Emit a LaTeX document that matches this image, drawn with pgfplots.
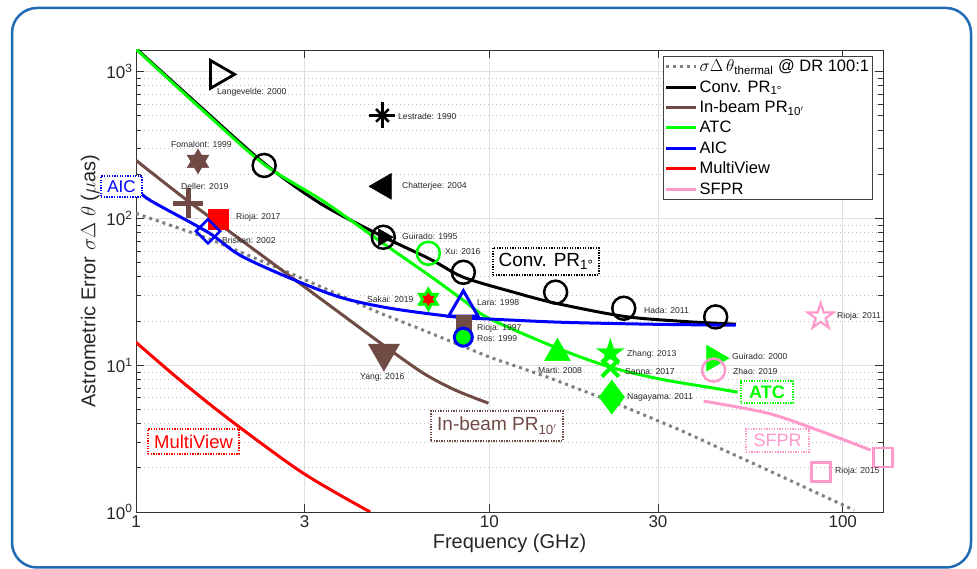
\documentclass[border=0pt]{standalone}
\usepackage{fontspec}
\setmainfont{Liberation Sans}
\usepackage{pgfplots}
\pgfplotsset{compat=1.18}
\definecolor{brownc}{rgb}{0.44,0.29,0.27}
\definecolor{pinkc}{rgb}{1,0.6,0.8}
\definecolor{framec}{RGB}{31,108,180}
\definecolor{gridc}{gray}{0.88}
\definecolor{txtc}{gray}{0.15}
\pgfdeclareplotmark{hexagram*}{%
  \pgfpathmoveto{\pgfpointpolar{90}{\pgfplotmarksize}}%
  \pgfpathlineto{\pgfpointpolar{120}{0.577\pgfplotmarksize}}%
  \pgfpathlineto{\pgfpointpolar{150}{\pgfplotmarksize}}%
  \pgfpathlineto{\pgfpointpolar{180}{0.577\pgfplotmarksize}}%
  \pgfpathlineto{\pgfpointpolar{210}{\pgfplotmarksize}}%
  \pgfpathlineto{\pgfpointpolar{240}{0.577\pgfplotmarksize}}%
  \pgfpathlineto{\pgfpointpolar{270}{\pgfplotmarksize}}%
  \pgfpathlineto{\pgfpointpolar{300}{0.577\pgfplotmarksize}}%
  \pgfpathlineto{\pgfpointpolar{330}{\pgfplotmarksize}}%
  \pgfpathlineto{\pgfpointpolar{0}{0.577\pgfplotmarksize}}%
  \pgfpathlineto{\pgfpointpolar{30}{\pgfplotmarksize}}%
  \pgfpathlineto{\pgfpointpolar{60}{0.577\pgfplotmarksize}}%
  \pgfpathclose\pgfusepathqfillstroke}
\newcommand\pentapath{%
  \pgfpathmoveto{\pgfpointpolar{90}{\pgfplotmarksize}}%
  \pgfpathlineto{\pgfpointpolar{126}{0.382\pgfplotmarksize}}%
  \pgfpathlineto{\pgfpointpolar{162}{\pgfplotmarksize}}%
  \pgfpathlineto{\pgfpointpolar{198}{0.382\pgfplotmarksize}}%
  \pgfpathlineto{\pgfpointpolar{234}{\pgfplotmarksize}}%
  \pgfpathlineto{\pgfpointpolar{270}{0.382\pgfplotmarksize}}%
  \pgfpathlineto{\pgfpointpolar{306}{\pgfplotmarksize}}%
  \pgfpathlineto{\pgfpointpolar{342}{0.382\pgfplotmarksize}}%
  \pgfpathlineto{\pgfpointpolar{18}{\pgfplotmarksize}}%
  \pgfpathlineto{\pgfpointpolar{54}{0.382\pgfplotmarksize}}%
  \pgfpathclose}
\pgfdeclareplotmark{pentagram*}{\pentapath\pgfusepathqfillstroke}
\pgfdeclareplotmark{pentagram}{\pentapath\pgfusepathqstroke}
\newcommand\lbl[3]{\node[anchor=west,inner sep=0pt,text=txtc,font=\fontsize{8.6}{9}\selectfont] at (#1,#2) {#3};}
\begin{document}
\begin{tikzpicture}[x=1pt,y=1pt]
\useasboundingbox (0,0) rectangle (977,569);
\draw[framec, line width=2.5pt, rounded corners=25pt] (12,1.5) rectangle (971,561);
\begin{axis}[
  at={(136pt,57pt)}, anchor=south west,
  scale only axis, width=747pt, height=462pt,
  xmode=log, ymode=log,
  xmin=1, xmax=130, ymin=1, ymax=1400,
  xtick={1,3,10,30,100}, xticklabels={1,3,10,30,100},
  minor xtick={},
  ytick={1,10,100,1000},
  yticklabels={10\textsuperscript{0},10\textsuperscript{1},10\textsuperscript{2},10\textsuperscript{3}},
  xmajorgrids, ymajorgrids, yminorgrids,
  major grid style={gridc, line width=0.8pt},
  minor grid style={gray!50, line width=0.6pt, dash pattern=on 1pt off 3pt},
  axis line style={black!80, line width=0.8pt},
  tick style={black!80, line width=0.7pt},
  major tick length=8pt, minor tick length=5pt,
  tick label style={font=\fontsize{17}{19}\selectfont, text=txtc},
  label style={font=\fontsize{20}{22}\selectfont, text=txtc},
  xlabel={Frequency (GHz)},
  ylabel={Astrometric Error $\sigma\Delta\;\theta$ ($\mu$as)},
  legend style={at={(0.9866,0.987)}, anchor=north east,
    font=\fontsize{16.5}{17}\selectfont, draw=black!75, line width=0.8pt,
    inner sep=1.5pt, row sep=3.2pt, cells={anchor=west}},
  legend image code/.code={\draw[#1] (0pt,0pt) -- (30pt,0pt);},
  legend cell align=left,
]
% thermal
\addplot[gray, line width=3pt, dash pattern=on 3pt off 4pt] coordinates {
 (1,108) (1.599,73.1) (2.73,42.3) (4.91,22.6) (6.50,17.3) (10.05,11.3)
 (14.6,8.29) (22.4,5.6) (34.7,3.61) (61.3,1.93) (107.6,1.03)};
\addlegendentry{$\sigma\Delta\,\theta$\textsubscript{thermal} @ DR 100:1}
% Conv PR
\addplot[black, line width=3pt, smooth] coordinates {
 (1,1435) (1.518,578) (2.305,237) (3.32,126.5) (4.91,76.6) (6.81,52.6)
 (8.44,39.7) (11.7,31.4) (15.4,26.4) (24.0,21.5) (34.8,19.9) (49.8,19.0)};
\addlegendentry{Conv. PR\textsubscript{1°}}
% In-beam
\addplot[brownc, line width=3pt, smooth] coordinates {
 (1,248) (1.395,132.6) (1.97,72) (2.73,40.3) (3.78,22.6) (5.01,13.7)
 (6.50,8.82) (8.01,6.76) (9.94,5.51)};
\addlegendentry{In-beam PR\textsubscript{10$'$}}
% ATC
\addplot[green, line width=3pt, smooth] coordinates {
 (1,1420) (1.518,565) (2.305,233) (3.386,131) (4.91,69.7) (6.81,40.3)
 (8.44,27.7) (9.94,20.9) (15.58,13.05) (22.0,9.69) (30.5,8.03) (43.1,6.98) (50.4,6.55)};
\addlegendentry{ATC}
% AIC
\addplot[blue, line width=3pt, smooth] coordinates {
 (1,160) (1.096,132.6) (1.599,80.3) (1.97,56.0) (2.73,39.1) (3.78,29.0)
 (5.24,24.4) (8.12,21.2) (10.05,20.6) (15.9,19.6) (28.6,19.0) (49.8,18.7)};
\addlegendentry{AIC}
% MultiView
\addplot[red, line width=3pt, smooth] coordinates {
 (1,14.3) (1.332,7.91) (1.846,4.23) (2.97,1.84) (4.60,1.0)};
\addlegendentry{MultiView}
% SFPR
\addplot[pinkc, line width=3pt, smooth] coordinates {
 (40.4,5.69) (61.3,4.71) (85,3.61) (120,2.64)};
\addlegendentry{SFPR}
% ---- markers ----
\addplot[forget plot, only marks, mark=triangle, mark size=16pt, line width=2.8pt, black, mark options={rotate=-90}] coordinates {(1.713,955)};
\addplot[forget plot, only marks, mark=+, mark size=13pt, line width=2.5pt, black] coordinates {(4.98,502)};
\addplot[forget plot, only marks, mark=x, mark size=9pt, line width=2.5pt, black] coordinates {(4.98,502)};
\addplot[forget plot, only marks, mark=triangle*, mark size=15pt, black, mark options={rotate=90}] coordinates {(5.03,165)};
\addplot[forget plot, only marks, mark=hexagram*, mark size=12.5pt, brownc, mark options={fill=brownc}] coordinates {(1.498,244)};
\addplot[forget plot, only marks, mark=+, mark size=15pt, line width=5pt, brownc] coordinates {(1.404,126.5)};
\addplot[forget plot, only marks, mark=square*, mark size=10pt, red, mark options={fill=red}] coordinates {(1.707,98.5)};
\addplot[forget plot, only marks, mark=square, mark size=8.5pt, line width=2.5pt, blue, mark options={rotate=45}] coordinates {(1.599,81.6)};
% conv PR circles
\addplot[forget plot, only marks, mark=o, mark size=11.5pt, line width=2.5pt, black] coordinates {
 (2.305,229) (5.01,74.3) (8.44,42.9) (15.4,31.4) (24.0,24.4) (43.7,21.3)};
\addplot[forget plot, only marks, mark=triangle*, mark size=10pt, black, mark options={rotate=-90}] coordinates {(5.01,74.3)};
\addplot[forget plot, only marks, mark=o, mark size=11.5pt, line width=2.5pt, green] coordinates {(6.72,57.8)};
\addplot[forget plot, only marks, mark=hexagram*, mark size=12.5pt, green, mark options={fill=green}] coordinates {(6.72,28.1)};
\addplot[forget plot, only marks, mark=hexagram*, mark size=6.5pt, red, mark options={fill=red}] coordinates {(6.72,28.1)};
\addplot[forget plot, only marks, mark=triangle, mark size=17pt, line width=3pt, blue] coordinates {(8.44,24.6)};
\addplot[forget plot, only marks, mark=square*, mark size=7.5pt, brownc, mark options={fill=brownc}] coordinates {(8.44,19.6)};
\addplot[forget plot, only marks, mark=*, mark size=9pt, line width=3pt, blue, mark options={fill=green}] coordinates {(8.44,15.5)};
\addplot[forget plot, only marks, mark=triangle*, mark size=18pt, brownc, mark options={rotate=180, fill=brownc}] coordinates {(5.03,12.07)};
\addplot[forget plot, only marks, mark=triangle*, mark size=15pt, green, mark options={fill=green}] coordinates {(15.58,12.07)};
\addplot[forget plot, only marks, mark=pentagram*, mark size=14.5pt, green, mark options={fill=green}] coordinates {(22.0,12.1)};
\addplot[forget plot, only marks, mark=x, mark size=12pt, line width=4pt, green] coordinates {(22.0,9.55)};
\addplot[forget plot, only marks, mark=diamond*, mark size=17pt, green, mark options={fill=green}] coordinates {(22.2,6.06)};
\addplot[forget plot, only marks, mark=triangle*, mark size=15pt, green, mark options={rotate=-90, fill=green}] coordinates {(43.25,11.16)};
\addplot[forget plot, only marks, mark=o, mark size=11.5pt, line width=2.5pt, pinkc] coordinates {(43.1,9.25)};
\addplot[forget plot, only marks, mark=pentagram, mark size=13.6pt, line width=2.2pt, pinkc] coordinates {(86.6,21.4)};
\addplot[forget plot, only marks, mark=square, mark size=9.5pt, line width=2.5pt, pinkc] coordinates {(86.9,1.87) (130,2.35)};
\end{axis}
% ---- annotation labels (pixel coordinates, y from bottom) ----
\lbl{217}{477}{Langevelde: 2000}
\lbl{398}{453}{Lestrade: 1990}
\lbl{171}{425}{Fomalont: 1999}
\lbl{402}{383}{Chatterjee: 2004}
\lbl{181}{383}{Deller: 2019}
\lbl{236}{352}{Rioja: 2017}
\lbl{222}{329}{Brisken: 2002}
\lbl{402}{333}{Guirado: 1995}
\lbl{445}{317}{Xu: 2016}
\lbl{367}{270}{Sakai: 2019}
\lbl{477}{266}{Lara: 1998}
\lbl{477}{241}{Rioja: 1997}
\lbl{477}{230}{Ros: 1999}
\lbl{360}{192}{Yang: 2016}
\lbl{538}{199}{Marti: 2008}
\lbl{627}{215}{Zhang: 2013}
\lbl{625}{197}{Sanna: 2017}
\lbl{627}{172}{Nagayama: 2011}
\lbl{644}{259}{Hada: 2011}
\lbl{732}{213}{Guirado: 2000}
\lbl{733}{198}{Zhao: 2019}
\lbl{837}{253}{Rioja: 2011}
\lbl{835}{98}{Rioja: 2015}
% ---- boxed method labels ----
\tikzset{boxl/.style={fill=white, line width=1.2pt, dash pattern=on 1.3pt off 1.3pt, inner sep=0pt, align=center}}
\node[boxl, draw=blue, text=blue, minimum width=41pt, minimum height=21pt, font=\fontsize{17}{18}\selectfont] at (121.5,382.5) {AIC};
\node[boxl, draw=black, text=black, minimum width=106pt, minimum height=27pt, font=\fontsize{19}{20}\selectfont] at (546,307.5) {Conv. PR\textsubscript{1°}};
\node[boxl, draw=brownc, text=brownc, minimum width=132pt, minimum height=30pt, font=\fontsize{19}{20}\selectfont] at (497,143) {In-beam PR\textsubscript{10$'$}};
\node[boxl, draw=green, text=green, minimum width=52pt, minimum height=22pt, font=\bfseries\fontsize{18}{19}\selectfont] at (767,177) {ATC};
\node[boxl, draw=pinkc, text=pinkc, minimum width=63pt, minimum height=23pt, font=\fontsize{18}{19}\selectfont] at (777.5,128.5) {SFPR};
\node[boxl, draw=red, text=red, minimum width=91pt, minimum height=25pt, font=\fontsize{18.5}{19}\selectfont] at (193.5,127.5) {MultiView};
\end{tikzpicture}
\end{document}
